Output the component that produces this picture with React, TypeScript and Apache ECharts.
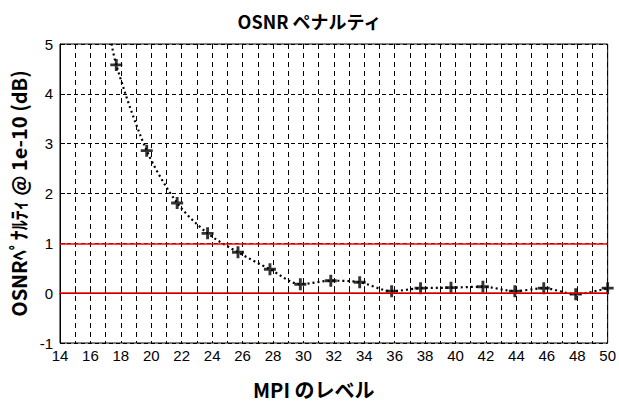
import React, { useEffect, useRef } from "react";
import * as echarts from "echarts";

const mpiLevels = [17.7, 19.7, 21.7, 23.7, 25.7, 27.8, 29.8, 31.8, 33.7, 35.8, 37.7, 39.7, 41.8, 43.9, 45.8, 47.9, 50];
const penalty = [4.58, 2.86, 1.81, 1.2, 0.82, 0.48, 0.18, 0.25, 0.22, 0.04, 0.1, 0.11, 0.13, 0.04, 0.1, -0.02, 0.1];
const fitStart = [17.1, 5.5];
const referenceLevels = [0, 1];
const titleText = "OSNR ペナルティ";
const xName = "MPI のレベル";
const yName = "OSNRﾍﾟﾅﾙﾃｨ @ 1e-10 (dB)";

const jp = "'Noto Sans CJK JP', 'Liberation Sans', sans-serif";
const latin = "'Liberation Sans', Arial, sans-serif";

export default function App() {
  const ref = useRef<HTMLDivElement>(null);
  useEffect(() => {
    if (!ref.current) return;
    const chart = echarts.init(ref.current, null, { renderer: "svg" });
    const points = mpiLevels.map((x, i) => [x, penalty[i]]);
    chart.setOption({
      animation: false,
      backgroundColor: "#fff",
      title: {
        text: titleText,
        left: "center",
        top: 7,
        textStyle: { fontFamily: jp, fontWeight: "bold", fontSize: 18, color: "#000" },
      },
      grid: { left: 60, right: 10, top: 44, bottom: 50, show: true, borderColor: "#000", borderWidth: 1 },
      xAxis: {
        type: "value",
        min: 14,
        max: 50,
        interval: 1,
        name: xName,
        nameLocation: "middle",
        nameGap: 36,
        nameTextStyle: { fontFamily: jp, fontWeight: "bold", fontSize: 20, color: "#000", padding: [0, 40, 0, 0] },
        axisLine: { lineStyle: { color: "#000", width: 1 } },
        axisTick: { inside: true, length: 7, lineStyle: { color: "#000" } },
        axisLabel: {
          color: "#000",
          fontFamily: latin,
          fontSize: 15,
          margin: 5,
          formatter: (v: number) => (v % 2 === 0 ? String(v) : ""),
        },
        splitLine: { show: true, lineStyle: { color: "#000", type: [5, 4], width: 1 } },
      },
      yAxis: {
        type: "value",
        min: -1,
        max: 5,
        interval: 1,
        name: yName,
        nameLocation: "middle",
        nameGap: 28,
        nameTextStyle: { fontFamily: jp, fontWeight: "bold", fontSize: 20, color: "#000" },
        axisLine: { show: true, lineStyle: { color: "#000", width: 1 } },
        axisTick: { show: true, inside: true, length: 5, lineStyle: { color: "#000" } },
        axisLabel: { color: "#000", fontFamily: latin, fontSize: 15, margin: 7 },
        splitLine: { show: true, lineStyle: { color: "#000", type: [4, 3], width: 1 } },
      },
      series: [
        {
          type: "line",
          name: "fit",
          data: [fitStart, ...points],
          smooth: 0.3,
          showSymbol: false,
          symbol: "none",
          clip: true,
          lineStyle: { color: "#000", width: 2.2, type: [2, 3] },
          markLine: {
            silent: true,
            symbol: "none",
            label: { show: false },
            lineStyle: { color: "#ff0000", width: 1.5, type: "solid" },
            data: referenceLevels.map((v) => ({ yAxis: v })),
          },
          z: 3,
        },
        {
          type: "scatter",
          name: "measured",
          data: points,
          symbol: "path://M3.8,0H6.2V3.8H10V6.2H6.2V10H3.8V6.2H0V3.8H3.8Z",
          symbolSize: 12,
          itemStyle: { color: "#000" },
          clip: false,
          z: 4,
        },
      ],
    });
    return () => chart.dispose();
  }, []);
  return <div ref={ref} style={{ position: "fixed", left: 0, top: 0, width: 619, height: 404 }} />;
}
